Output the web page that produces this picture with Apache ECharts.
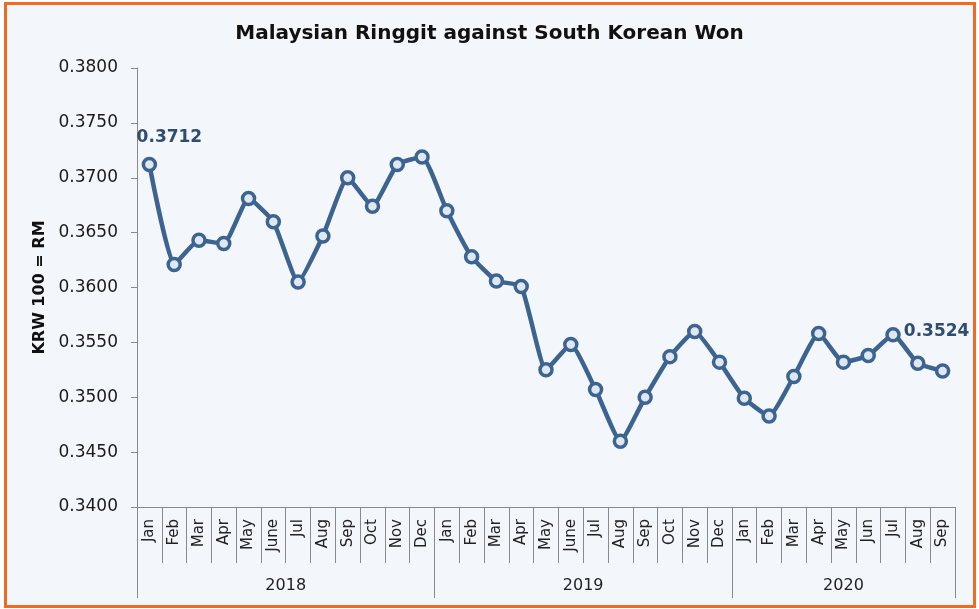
<!DOCTYPE html>
<html>
<head>
<meta charset="utf-8">
<script src="https://cdn.jsdelivr.net/npm/echarts@6/dist/echarts.min.js"></script>
<style>
  body { margin: 0; background: #fff; }
  #frame { position: absolute; left: 4px; top: 2px; width: 966px; height: 600px;
           border: 3px solid #f06a22; background: #f3f6fb; }
  #container { position: absolute; left: 0; top: 0; width: 979px; height: 609px; }
</style>
</head>
<body>
<div id="frame"></div>
<div id="container"></div>
<script>
// months (Jan 2018 - Sep 2020)
var months = ['Jan','Feb','Mar','Apr','May','June','Jul','Aug','Sep','Oct','Nov','Dec',
              'Jan','Feb','Mar','Apr','May','June','Jul','Aug','Sep','Oct','Nov','Dec',
              'Jan','Feb','Mar','Apr','May','Jun','Jul','Aug','Sep'];
var years = ['2018','2019','2020'];
var yearBounds = [0, 12, 24, 33];     // month index where each year starts / ends
var yearMids = [6, 18, 28.5];
// MYR per KRW 100
var rates = [0.3712,0.3621,0.3643,0.3640,0.3681,0.3660,0.3605,0.3647,0.3700,0.3674,0.3712,0.3719,
             0.3670,0.3628,0.3606,0.3601,0.3525,0.3548,0.3507,0.3460,0.3500,0.3537,0.3560,0.3532,
             0.3499,0.3483,0.3519,0.3558,0.3532,0.3538,0.3557,0.3531,0.3524];

var blue = '#3d6491';
var dom = document.getElementById('container');
var myChart = echarts.init(dom);

var seriesData = rates.map(function (v, i) {
  var d = { value: v };
  if (i == 0) {
    d.label = { show: true, position: 'top', offset: [20, -6] };
  } else if (i == rates.length - 1) {
    d.label = { show: true, position: 'top', offset: [-6, -18] };
  }
  return d;
});

var option = {
  title: {
    text: 'Malaysian Ringgit against South Korean Won',
    left: 'center',
    top: 19,
    textStyle: { fontFamily: 'DejaVu Sans', fontSize: 20, fontWeight: 'bold', color: '#111' }
  },
  grid: { left: 137, right: 24, top: 68, bottom: 102 },
  xAxis: [{
    type: 'category',
    data: months,
    boundaryGap: true,
    axisLine: { lineStyle: { color: '#8a8a8a', width: 1 } },
    axisTick: { show: true, interval: 0, length: 56, lineStyle: { color: '#8a8a8a' } },
    axisLabel: {
      interval: 0, rotate: 90, margin: 12,
      fontFamily: 'DejaVu Sans', fontSize: 15, color: '#222'
    }
  }, {
    type: 'value',
    position: 'bottom',
    min: 0, max: 33,
    axisLine: { show: false },
    splitLine: { show: false },
    axisTick: { show: true, customValues: yearBounds, length: 91, lineStyle: { color: '#8a8a8a' } },
    axisLabel: {
      customValues: yearMids, margin: 71,
      fontFamily: 'DejaVu Sans', fontSize: 16, color: '#222',
      formatter: function (v) { return years[yearMids.indexOf(v)]; }
    }
  }],
  yAxis: {
    type: 'value',
    min: 0.34, max: 0.38, interval: 0.005,
    name: 'KRW 100 = RM',
    nameLocation: 'middle',
    nameGap: 88,
    nameRotate: 90,
    nameTextStyle: { fontFamily: 'DejaVu Sans', fontSize: 16, fontWeight: 'bold', color: '#111' },
    axisLine: { show: true, lineStyle: { color: '#8a8a8a' } },
    axisTick: { show: true, length: 6, lineStyle: { color: '#8a8a8a' } },
    splitLine: { show: false },
    axisLabel: {
      margin: 19,
      fontFamily: 'DejaVu Sans', fontSize: 17, color: '#1a1a1a',
      formatter: function (v) { return v.toFixed(4); }
    }
  },
  series: [{
    type: 'line',
    xAxisIndex: 0,
    data: seriesData,
    smooth: 0.15,
    symbol: 'circle',
    symbolSize: 12,
    lineStyle: { color: blue, width: 4.5 },
    itemStyle: { color: '#dfe7f1', borderColor: blue, borderWidth: 3.5 },
    label: {
      show: false,
      fontFamily: 'DejaVu Sans', fontSize: 17, fontWeight: 'bold', color: '#2f4d73',
      formatter: function (p) { return p.value.toFixed(4); }
    },
    emphasis: { disabled: true }
  }]
};
myChart.setOption(option);
</script>
</body>
</html>
